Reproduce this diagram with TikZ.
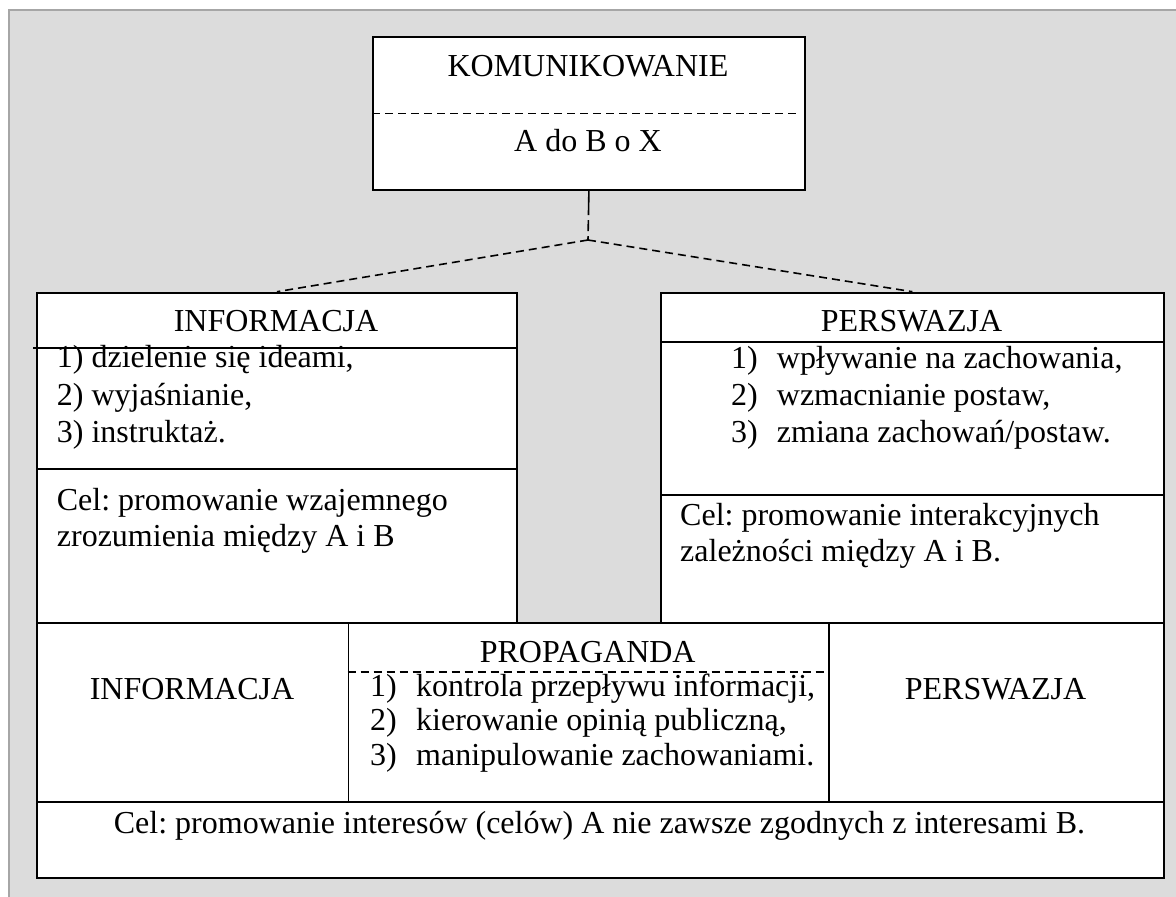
\documentclass[tikz,border=0pt]{standalone}
\usepackage{fontspec}
\setmainfont{Liberation Serif}
\frenchspacing
\definecolor{bggray}{RGB}{220,220,220}
\definecolor{framegray}{RGB}{166,166,166}
\tikzset{
    cell/.style={draw, fill=white, line width=1.8pt, inner sep=0pt, anchor=north west},
    lbl/.style={inner sep=0pt, anchor=base, font=\fontsize{32}{37}\selectfont},
    lbll/.style={lbl, anchor=base west},
    dashline/.style={line width=1.6pt, dash pattern=on 8pt off 5pt}
}

\begin{document}
\begin{tikzpicture}[x=1pt, y=-1pt]
    \useasboundingbox (0,0) rectangle (1176,897);
    \fill[bggray] (9,10) rectangle (1176,897);
    \draw[framegray, line width=1.5pt] (9,897) -- (9,10) -- (1176,10);
    % komunikowanie
    \node[cell, minimum width=432pt, minimum height=153.3pt] (kom) at (372,36) {};
    \node[lbl] (komT) at (588,76.7) {KOMUNIKOWANIE};
    \node[lbl] (komS) at (588,151.7) {A do B o X};
    \draw[dashline] (372,113.3) -- (799,113.3);
    % informacja
    \node[cell, minimum width=480pt, minimum height=330.3pt] (info) at (36,291.7) {};
    \node[lbl] (infoT) at (276,331.7) {INFORMACJA};
    \node[lbll] (info1) at (56.7,367.3) {1) dzielenie się ideami,};
    \node[lbll] (info2) at (56.7,405) {2) wyjaśnianie,};
    \node[lbll] (info3) at (56.7,442.3) {3) instruktaż.};
    \node[lbll] (infoC1) at (56.7,510) {Cel: promowanie wzajemnego};
    \node[lbll] (infoC2) at (56.7,546.7) {zrozumienia między A i B};
    \draw[line width=1.8pt] (33,347.7) -- (516,347.7);
    \draw[line width=1.8pt] (36,469.3) -- (516,469.3);
    % perswazja
    \node[cell, minimum width=503pt, minimum height=330.3pt] (pers) at (660,291.7) {};
    \node[lbl] (persT) at (911.5,331.7) {PERSWAZJA};
    \node[lbll] (persN1) at (731,368.3) {1)};
    \node[lbll] (persN2) at (731,405) {2)};
    \node[lbll] (persN3) at (731,442.3) {3)};
    \node[lbll] (pers1) at (776.7,368.3) {wpływanie na zachowania,};
    \node[lbll] (pers2) at (776.7,405) {wzmacnianie postaw,};
    \node[lbll] (pers3) at (776.7,442.3) {zmiana zachowań/postaw.};
    \node[lbll] (persC1) at (680,525) {Cel: promowanie interakcyjnych};
    \node[lbll] (persC2) at (680,561.7) {zależności między A i B.};
    \draw[line width=1.8pt] (660,341.7) -- (1163,341.7);
    \draw[line width=1.8pt] (660,495) -- (1163,495);
    % links
    \coordinate (jn) at (588,240);
    \draw[dashline, dash pattern=on 24pt off 5pt on 11pt off 5pt on 6pt] (kom.south) -- (jn);
    \draw[dashline] (jn) -- (info.north);
    \draw[dashline] (jn) -- (pers.north);
    % propaganda row
    \node[cell, minimum width=311.5pt, minimum height=178.7pt] (infoB) at (36,622) {};
    \node[cell, minimum width=480.5pt, minimum height=178.7pt] (prop) at (347.5,622) {};
    \node[cell, minimum width=335pt, minimum height=178.7pt] (persB) at (828,622) {};
    \node[cell, minimum width=1127pt, minimum height=76pt] (celB) at (36,800.7) {};
    \node[lbl] (infoBT) at (192,699) {INFORMACJA};
    \node[lbl] (persBT) at (995.5,699) {PERSWAZJA};
    \node[lbl] (propT) at (587.7,662.7) {PROPAGANDA};
    \node[lbll] (propN1) at (370,696.7) {1)};
    \node[lbll] (propN2) at (370,730) {2)};
    \node[lbll] (propN3) at (370,765) {3)};
    \node[lbll] (prop1) at (416,696.7) {kontrola przepływu informacji,};
    \node[lbll] (prop2) at (416,730) {kierowanie opinią publiczną,};
    \node[lbll] (prop3) at (416,765) {manipulowanie zachowaniami.};
    \draw[dashline] (347.5,671.7) -- (828,671.7);
    \node[lbl] (celBT) at (599.5,833) {Cel: promowanie interesów (celów) A nie zawsze zgodnych z interesami B.};
\end{tikzpicture}
\end{document}
